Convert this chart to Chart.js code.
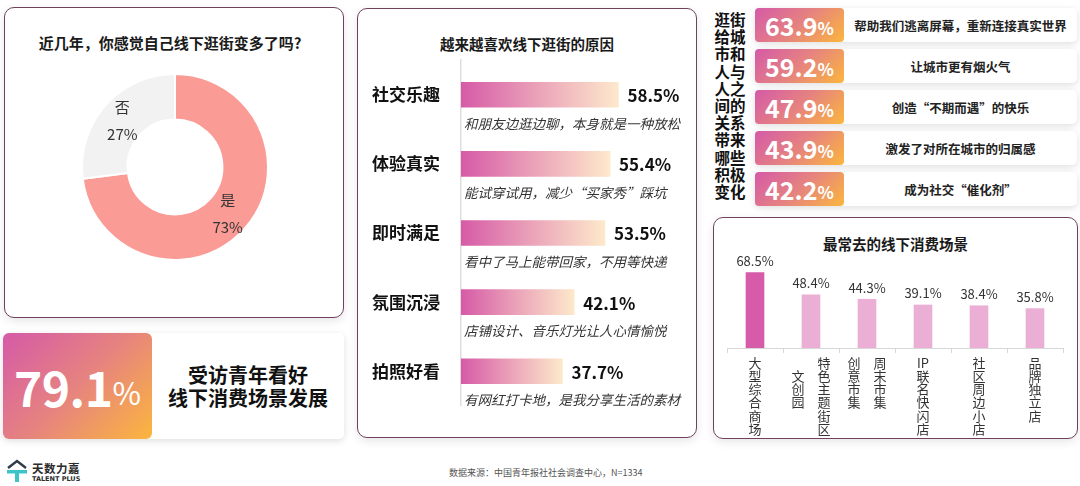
<!DOCTYPE html>
<html>
<head>
<meta charset="utf-8">
<script src="https://cdn.jsdelivr.net/npm/chart.js@4.4.1/dist/chart.umd.min.js"></script>
<style>
  body { margin:0; width:1080px; height:486px; background:#fff; position:relative; overflow:hidden;
         font-family:"Noto Sans CJK SC","Noto Sans",sans-serif; color:#1a1a1a; }
  .panel { position:absolute; box-sizing:border-box; border:1.5px solid #70405f; border-radius:10px;
           background:#fff; box-shadow:0 3px 10px rgba(0,0,0,0.10); }
  .title { position:absolute; left:0; right:0; text-align:center; font-weight:bold; }
  .wrap { position:absolute; }
  .card { position:absolute; background:#fff; border-radius:5px; box-shadow:0 2px 7px rgba(0,0,0,0.13); }
  .grad { position:absolute; left:0; top:0; bottom:0; border-radius:5px; color:#fff; font-weight:bold;
          background:linear-gradient(135deg,#d55aa8 0%,#e6837f 50%,#fbb63e 100%);
          display:flex; align-items:center; justify-content:center; }
  .desc { position:absolute; top:0; bottom:0; right:0; display:flex; align-items:center; justify-content:center;
          font-size:12.5px; font-weight:bold; color:#222; }
</style>
</head>
<body>

<!-- left: doughnut panel -->
<div class="panel" style="left:4px;top:7px;width:340px;height:311px;">
  <div class="title" style="top:24px;font-size:15px;left:-8px;">近几年，你感觉自己线下逛街变多了吗?</div>
</div>
<div class="wrap" style="left:77px;top:69px;width:196px;height:196px;"><canvas id="donut"></canvas></div>

<!-- left bottom: outlook card -->
<div class="card" style="left:3px;top:333px;width:341px;height:106px;">
  <div class="grad" id="outlook" style="width:149px;border-radius:6px;"></div>
  <div style="position:absolute;left:149px;right:0;top:0;bottom:0;display:flex;align-items:center;justify-content:center;
              text-align:center;font-weight:bold;font-size:20px;line-height:23px;color:#111;">受访青年看好<br>线下消费场景发展</div>
</div>

<!-- middle: reasons panel -->
<div class="panel" style="left:357px;top:8px;width:340px;height:430px;">
  <div class="title" style="top:24px;font-size:14.5px;">越来越喜欢线下逛街的原因</div>
</div>
<div class="wrap" style="left:357px;top:50px;width:340px;height:366px;"><canvas id="reasons"></canvas></div>

<!-- top right: changes list -->
<div id="changeHead" style="position:absolute;left:713px;top:11px;width:34px;text-align:center;font-weight:bold;
     font-size:15.5px;line-height:17.2px;color:#111;"></div>
<div id="changes"></div>

<!-- bottom right: scenes panel -->
<div class="panel" style="left:713px;top:217px;width:365px;height:222px;">
  <div class="title" style="top:15px;font-size:14.5px;">最常去的线下消费场景</div>
</div>
<div class="wrap" style="left:713px;top:250px;width:365px;height:188px;"><canvas id="scenes"></canvas></div>

<!-- footer -->
<svg style="position:absolute;left:6px;top:459px;" width="22" height="24" viewBox="0 0 22 24">
  <polyline points="2,9 11,2 20,9" fill="none" stroke="#2f3b47" stroke-width="2.4"/>
  <path d="M1,11 H21 V14.5 H13 V23 H9 V14.5 H1 Z" fill="#3cc5c9"/>
</svg>
<div style="position:absolute;left:32px;top:460px;font-size:11.5px;font-weight:bold;color:#2b2b2b;letter-spacing:0.5px;">天数力嘉</div>
<div style="position:absolute;left:32px;top:475px;font-size:6.5px;font-weight:bold;color:#2b2b2b;font-family:'DejaVu Sans';">TALENT PLUS</div>
<div style="position:absolute;left:449px;top:466px;font-size:9px;color:#555;">数据来源：中国青年报社社会调查中心，N=1334</div>

<script>
// 近几年线下逛街是否变多
const donutLabels = ['是', '否'];
const donutValues = [73, 27];

// 看好线下消费场景发展
const outlookValue = 79.1;

// 越来越喜欢线下逛街的原因
const reasons = ['社交乐趣', '体验真实', '即时满足', '氛围沉浸', '拍照好看'];
const reasonValues = [58.5, 55.4, 53.5, 42.1, 37.7];
const reasonNotes = [
  '和朋友边逛边聊，本身就是一种放松',
  '能试穿试用，减少“买家秀”踩坑',
  '看中了马上能带回家，不用等快递',
  '店铺设计、音乐灯光让人心情愉悦',
  '有网红打卡地，是我分享生活的素材'
];

// 逛街给城市和人与人之间的关系带来哪些积极变化
const changeTitle = '逛街给城市和人与人之间的关系带来哪些积极变化';
const changeValues = [63.9, 59.2, 47.9, 43.9, 42.2];
const changeLabels = [
  '帮助我们逃离屏幕，重新连接真实世界',
  '让城市更有烟火气',
  '创造“不期而遇”的快乐',
  '激发了对所在城市的归属感',
  '成为社交“催化剂”'
];

// 最常去的线下消费场景 (tick labels written top-down, one row per line)
const sceneLabels = [
  ['大', '型', '综', '合', '商', '场'],
  ['　　特', '文　色', '创　主', '园　题', '　　街', '　　区'],
  ['创　周', '意　末', '市　市', '集　集'],
  ['IP', '联', '名', '快', '闪', '店'],
  ['社', '区', '周', '边', '小', '店'],
  ['品', '牌', '独', '立', '店']
];
const sceneValues = [68.5, 48.4, 44.3, 39.1, 38.4, 35.8];

Chart.defaults.font.family = '"Noto Sans CJK SC", "Noto Sans", sans-serif';
Chart.defaults.animation = false;

// ---- static html bits ----
document.getElementById('outlook').innerHTML =
  '<span style="font-size:48px;letter-spacing:-0.5px;">' + outlookValue.toFixed(1) +
  '</span><span style="font-size:31px;font-weight:normal;margin-top:10px;">%</span>';

let head = '';
for (let i = 0; i < changeTitle.length; i += 2) head += changeTitle.slice(i, i + 2) + '<br>';
document.getElementById('changeHead').innerHTML = head;

let rows = '';
changeValues.forEach((v, i) => {
  rows += '<div class="card" style="left:755px;top:' + (8 + i * 41) + 'px;width:322px;height:34px;">' +
    '<div class="grad" style="width:89px;border-radius:4px;"><span style="font-size:25px;">' + v.toFixed(1) +
    '</span><span style="font-size:17px;margin-top:5px;">%</span></div>' +
    '<div class="desc" style="left:89px;">' + changeLabels[i] + '</div></div>';
});
document.getElementById('changes').innerHTML = rows;

// ---- doughnut ----
const donutText = {
  id: 'donutText',
  afterDatasetsDraw(chart) {
    const ctx = chart.ctx;
    ctx.save();
    ctx.font = '15px "Noto Sans CJK SC"';
    ctx.fillStyle = '#333';
    ctx.textAlign = 'center';
    ctx.textBaseline = 'middle';
    chart.getDatasetMeta(0).data.forEach((arc, i) => {
      const p = arc.tooltipPosition();
      ctx.fillText(donutLabels[i], p.x, p.y - 13);
      ctx.fillText(donutValues[i] + '%', p.x, p.y + 14);
    });
    ctx.restore();
  }
};

new Chart(document.getElementById('donut'), {
  type: 'doughnut',
  data: {
    labels: donutLabels,
    datasets: [{
      data: donutValues,
      backgroundColor: ['#fa9b96', '#f2f2f2'],
      borderColor: '#fff',
      borderWidth: 2
    }]
  },
  options: {
    responsive: true,
    maintainAspectRatio: false,
    cutout: '51%',
    layout: { padding: 4 },
    plugins: { legend: { display: false }, tooltip: { enabled: false } }
  },
  plugins: [donutText]
});

// ---- reasons (horizontal bars) ----
function barGradient(c) {
  const chart = c.chart;
  const area = chart.chartArea;
  if (!area || c.raw === undefined) return '#e39ab8';
  const x1 = chart.scales.x.getPixelForValue(c.raw);
  const g = chart.ctx.createLinearGradient(area.left, 0, x1, 0);
  g.addColorStop(0, '#d65aa7');
  g.addColorStop(0.5, '#eba4b9');
  g.addColorStop(1, '#fde9cb');
  return g;
}

const reasonText = {
  id: 'reasonText',
  afterDatasetsDraw(chart) {
    const ctx = chart.ctx;
    const left = chart.chartArea.left;
    ctx.save();
    ctx.textAlign = 'left';
    ctx.textBaseline = 'middle';
    chart.getDatasetMeta(0).data.forEach((bar, i) => {
      ctx.font = 'bold 17px "Noto Sans CJK SC"';
      ctx.fillStyle = '#111';
      ctx.fillText(reasonValues[i].toFixed(1) + '%', bar.x + 9, bar.y + 1);
      ctx.font = 'italic 13.5px "Noto Sans CJK SC"';
      ctx.fillStyle = '#333';
      ctx.fillText(reasonNotes[i], left + 3, bar.y + 29);
    });
    ctx.restore();
  }
};

new Chart(document.getElementById('reasons'), {
  type: 'bar',
  data: {
    labels: reasons,
    datasets: [{ data: reasonValues, backgroundColor: barGradient, barThickness: 25, borderWidth: 0 }]
  },
  options: {
    indexAxis: 'y',
    responsive: true,
    maintainAspectRatio: false,
    layout: { padding: { top: 0, bottom: 0, left: 15, right: 10 } },
    plugins: { legend: { display: false }, tooltip: { enabled: false } },
    scales: {
      x: { display: false, min: 0, max: 84 },
      y: {
        grid: { display: false },
        border: { display: true, color: '#dddddd', width: 1.5 },
        ticks: { color: '#111', font: { size: 17, weight: 'bold' }, padding: 0, crossAlign: 'far' },
        afterFit: s => { s.width = 89; }
      }
    }
  },
  plugins: [reasonText]
});

// ---- scenes (vertical bars) ----
const sceneText = {
  id: 'sceneText',
  afterDatasetsDraw(chart) {
    const ctx = chart.ctx;
    ctx.save();
    ctx.font = '13px "Noto Sans CJK SC"';
    ctx.fillStyle = '#333';
    ctx.textAlign = 'center';
    ctx.textBaseline = 'bottom';
    chart.getDatasetMeta(0).data.forEach((bar, i) => {
      ctx.fillText(sceneValues[i].toFixed(1) + '%', bar.x, bar.y - 5);
    });
    ctx.restore();
  }
};

new Chart(document.getElementById('scenes'), {
  type: 'bar',
  data: {
    labels: sceneLabels,
    datasets: [{
      data: sceneValues,
      backgroundColor: sceneValues.map((v, i) => i === 0 ? '#d65ba8' : '#ebafd5'),
      barThickness: 18,
      borderWidth: 0
    }]
  },
  options: {
    responsive: true,
    maintainAspectRatio: false,
    layout: { padding: { top: 10, left: 14, right: 15 } },
    plugins: { legend: { display: false }, tooltip: { enabled: false } },
    scales: {
      x: {
        grid: { display: true, drawOnChartArea: false, tickLength: 5, color: '#d8d8d8', offset: true },
        border: { color: '#d8d8d8' },
        ticks: { color: '#333', font: { size: 13, lineHeight: 1.02 }, padding: 3, maxRotation: 0, autoSkip: false },
        afterFit: s => { s.height = 90; }
      },
      y: { display: false, min: 0, max: 80 }
    }
  },
  plugins: [sceneText]
});
</script>
</body>
</html>
